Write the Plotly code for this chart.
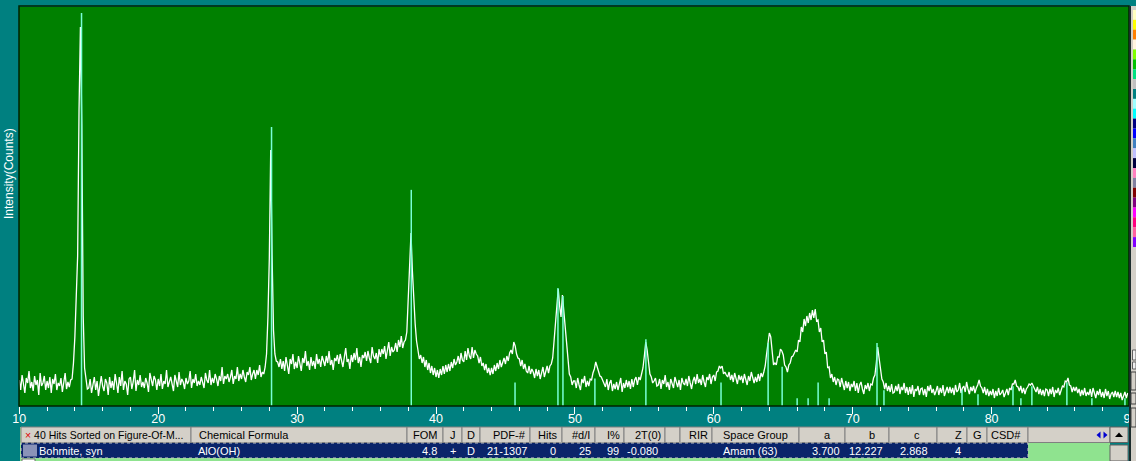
import plotly.graph_objects as go

# ---------------- data ----------------
# XRD scan: 2-theta from 10.0 deg in 0.1 deg steps, intensity in counts
start_2theta = 10.0
step_2theta = 0.1
counts = [
    260, 160, 310, 190, 130, 280, 230, 350, 180, 240,
    150, 300, 210, 260, 110, 330, 200, 230, 300, 160,
    250, 180, 290, 130, 270, 220, 320, 160, 230, 200,
    280, 140, 230, 330, 170, 240, 190, 260, 270, 430,
    690, 1100, 1500, 2960, 3790, 2800, 900, 380, 270, 170,
    180, 270, 130, 230, 290, 160, 250, 100, 220, 300,
    200, 150, 270, 230, 110, 290, 180, 250, 160, 320,
    230, 130, 290, 200, 350, 160, 250, 220, 110, 270,
    290, 170, 240, 360, 150, 260, 210, 310, 190, 240,
    180, 280, 230, 140, 330, 250, 200, 300, 260, 160,
    270, 200, 320, 170, 250, 220, 360, 190, 240, 290,
    220, 150, 310, 260, 190, 340, 210, 270, 240, 170,
    280, 220, 250, 350, 180, 270, 230, 320, 200, 250,
    210, 290, 240, 180, 330, 260, 230, 360, 210, 280,
    230, 320, 270, 200, 300, 250, 390, 220, 300, 270,
    320, 240, 290, 360, 220, 300, 270, 390, 250, 320,
    270, 360, 290, 240, 340, 310, 390, 260, 320, 360,
    270, 360, 310, 410, 290, 340, 320, 390, 520, 890,
    1480, 2560, 1500, 760, 520, 450, 440, 390, 470, 370,
    450, 350, 490, 400, 320, 470, 420, 520, 370, 440,
    380, 500, 410, 350, 480, 430, 550, 400, 450, 360,
    490, 400, 450, 370, 520, 420, 470, 390, 500, 440,
    400, 500, 430, 550, 410, 460, 360, 480, 450, 510,
    420, 520, 460, 390, 490, 580, 440, 470, 370, 510,
    440, 530, 460, 580, 430, 490, 390, 510, 480, 540,
    450, 550, 480, 430, 590, 500, 470, 530, 430, 570,
    490, 570, 520, 600, 470, 550, 640, 500, 590, 540,
    560, 630, 540, 660, 590, 700, 580, 640, 660, 740,
    1090, 1400, 1730, 1350, 1050, 820, 650, 530, 470, 510,
    430, 490, 390, 460, 360, 430, 330, 400, 310, 380,
    290, 360, 280, 370, 310, 400, 320, 410, 340, 420,
    350, 440, 380, 470, 410, 440, 500, 420, 530, 460,
    440, 550, 460, 580, 500, 470, 590, 480, 560, 520,
    500, 430, 490, 400, 430, 360, 420, 330, 380, 310,
    380, 320, 410, 350, 430, 370, 460, 390, 440, 480,
    420, 500, 450, 530, 560, 520, 640, 600, 520, 480,
    470, 400, 460, 370, 420, 350, 330, 400, 320, 370,
    340, 280, 370, 300, 360, 270, 330, 390, 290, 360,
    400, 330, 400, 420, 480, 650, 850, 1000, 1170, 1000,
    890, 1110, 960, 760, 620, 450, 320, 290, 210, 250,
    250, 180, 280, 210, 160, 270, 230, 300, 190, 250,
    200, 270, 260, 330, 370, 440, 390, 360, 300, 290,
    260, 220, 190, 270, 160, 230, 260, 150, 220, 170,
    240, 160, 210, 280, 140, 230, 180, 260, 190, 250,
    170, 270, 190, 260, 290, 210, 290, 260, 320, 380,
    500, 640, 560, 420, 320, 290, 230, 250, 280, 200,
    210, 270, 170, 260, 220, 310, 190, 240, 160, 270,
    230, 180, 290, 240, 190, 260, 160, 280, 230, 210,
    270, 200, 300, 230, 170, 250, 290, 220, 320, 230,
    270, 210, 310, 240, 190, 290, 260, 320, 220, 290,
    310, 250, 340, 350, 400, 380, 400, 320, 340, 310,
    290, 340, 260, 310, 240, 330, 270, 220, 310, 260,
    300, 230, 320, 270, 210, 300, 250, 340, 270, 230,
    290, 240, 320, 250, 330, 290, 340, 400, 520, 640,
    730, 690, 530, 410, 430, 410, 490, 490, 570, 550,
    510, 410, 390, 340, 410, 430, 490, 500, 530, 560,
    540, 660, 640, 790, 740, 870, 800, 900, 830, 930,
    860, 960, 880, 970, 850, 860, 740, 780, 640, 660,
    520, 540, 380, 390, 280, 320, 240, 290, 210, 270,
    260, 190, 280, 210, 160, 250, 180, 240, 150, 220,
    190, 250, 150, 230, 130, 210, 240, 170, 120, 210,
    170, 230, 150, 220, 210, 280, 310, 430, 590, 480,
    360, 270, 240, 170, 230, 150, 200, 140, 220, 130,
    140, 200, 150, 220, 120, 190, 160, 230, 130, 190,
    110, 190, 120, 210, 90, 170, 150, 200, 110, 170,
    180, 110, 170, 90, 200, 150, 210, 130, 170, 110,
    150, 200, 110, 180, 130, 210, 100, 160, 190, 130,
    190, 130, 180, 110, 210, 140, 160, 230, 130, 180,
    200, 140, 240, 170, 120, 190, 150, 200, 130, 180,
    210, 260, 200, 180, 130, 190, 110, 170, 100, 150,
    110, 170, 80, 150, 100, 180, 110, 130, 160, 90,
    140, 170, 110, 180, 160, 220, 220, 260, 200, 190,
    150, 200, 130, 180, 120, 170, 190, 220, 210, 230,
    200, 160, 140, 190, 120, 170, 110, 160, 100, 170,
    160, 100, 170, 120, 190, 90, 160, 130, 180, 110,
    160, 200, 190, 250, 240, 280, 210, 200, 140, 190,
    150, 190, 130, 170, 100, 160, 110, 180, 100, 140,
    110, 170, 90, 180, 130, 80, 150, 110, 170, 90,
    140, 80, 170, 100, 150, 70, 120, 140, 90, 150,
    90, 140, 80, 130, 60, 110, 140, 80, 130,
]
two_theta = [round(start_2theta + i * step_2theta, 1) for i in range(len(counts))]

# Reference pattern sticks (PDF 21-1307, Bohmite, syn): 2-theta and I%
stick_2theta = [14.48, 28.16, 38.22, 45.69, 48.78, 49.14, 51.44, 55.11, 60.52,
                63.91, 64.92, 66.00, 66.79, 67.51, 68.30, 71.75, 72.25, 77.87,
                79.02, 81.54, 82.11, 82.90, 85.42, 87.22, 89.60]
stick_rel_int = [100, 71, 55, 6, 30, 28, 7, 17, 6,
                 16, 10, 2, 2, 6, 2, 16, 4, 4,
                 3, 5, 2, 5, 6, 2, 2]
stick_full_scale = 3930  # counts at I% = 100

x_tick_values = [10, 20, 30, 40, 50, 60, 70, 80, 90]
y_title = "Intensity(Counts)"

# Hit list table (header + selected row)
table_header = ["40 Hits Sorted on Figure-Of-M...", "Chemical Formula", "FOM", "J", "D",
                "PDF-#", "Hits", "#d/I", "I%", "2T(0)", "", "RIR", "Space Group",
                "a", "b", "c", "Z", "G", "CSD#"]
table_row = ["Bohmite, syn", "AlO(OH)", "4.8", "+", "D", "21-1307", "0", "25", "99",
             "-0.080", "", "", "Amam (63)", "3.700", "12.227", "2.868", "4", "", ""]

# ---------------- page geometry / styles ----------------
W, H = 1136, 461
L, R, T, B = 19, 3, 7, 55
PW = W - L - R
PH = H - T - B
PLOT_BOTTOM = T + PH

TEAL = "#008080"
GREEN = "#008000"
STICK = "#78ffd6"
GRAY = "#d4d0c8"
NAVY = "#0a246a"
LIGHTGREEN = "#8fe38f"
FONT = "Liberation Sans"


def X(px):
    return (px - L) / PW


def Y(py):
    return (PLOT_BOTTOM - py) / PH


shapes = []
annotations = []


def rect(x0, y0, x1, y1, fill, line=None, lw=0, dash=None):
    d = dict(type="rect", xref="paper", yref="paper",
             x0=X(x0), x1=X(x1), y0=Y(y1), y1=Y(y0),
             fillcolor=fill, layer="above",
             line=dict(width=lw, color=line if line else fill))
    if dash:
        d["line"]["dash"] = dash
    shapes.append(d)


def path(points, fill):
    p = "M " + " L ".join(f"{X(a):.5f},{Y(b):.5f}" for a, b in points) + " Z"
    shapes.append(dict(type="path", xref="paper", yref="paper", path=p,
                       fillcolor=fill, line=dict(width=0), layer="above"))


def text(px, py, s, anchor="left", color="black", size=11, angle=0):
    annotations.append(dict(x=X(px), y=Y(py), xref="paper", yref="paper",
                            text=s, showarrow=False, xanchor=anchor, yanchor="middle",
                            textangle=angle, borderpad=0,
                            font=dict(family=FONT, size=size, color=color)))


# ---------------- traces ----------------
stick_x, stick_y = [], []
for t, r in zip(stick_2theta, stick_rel_int):
    stick_x += [t, t, None]
    stick_y += [0, r / 100 * stick_full_scale, None]

fig = go.Figure()
fig.add_trace(go.Scatter(x=two_theta, y=counts, mode="lines",
                         line=dict(color="white", width=1.3), hoverinfo="skip"))
fig.add_trace(go.Scatter(x=stick_x, y=stick_y, mode="lines",
                         line=dict(color=STICK, width=1.5), hoverinfo="skip"))

# plot border
shapes.append(dict(type="rect", xref="paper", yref="paper", x0=X(19), x1=X(1129),
                   y0=0, y1=Y(6), line=dict(color="#002200", width=1.5), layer="above"))

# right-hand tool panel with colour palette
rect(1129, 6, 1131, 461, "#1c2c2c")
rect(1131, 6, 1136, 461, GRAY)
palette = ["#ffffc0", "#ffff00", "#ff8000", "#fff4e0", "#80ff00", "#00c000", "#00e080",
           "#c0c0c0", "#008080", "#a0ffff", "#00ffff", "#000080", "#0000ff", "#4080c0",
           "#c0c0ff", "#000040", "#ff80c0", "#8080a0", "#800000", "#800080", "#ff00ff",
           "#ff0080", "#ff60a0", "#8000ff"]
ch = (247 - 10) / len(palette)
for i, c in enumerate(palette):
    rect(1133, 10 + i * ch, 1136, 10 + (i + 1) * ch, c)
rect(1132.5, 350, 1136, 360, "#f0f0f0", "#606060", 1)
rect(1132.5, 362, 1136, 369, "#f0f0f0", "#606060", 1)
rect(1131, 372, 1136, 390, GRAY, "#404040", 1)
rect(1131, 393, 1136, 404, GRAY, "#404040", 1)
rect(1131, 408, 1136, 427, GRAY, "#404040", 1)

# ---------------- hit list table ----------------
col_edges = [21, 191, 407, 443, 462, 480, 530, 562, 595, 624, 665, 680, 712, 799,
             845, 889, 937, 967, 987, 1028]
HY0, HY1 = 427, 442.5
RY0, RY1 = 443, 458
rect(20, HY0, 1110, 461, LIGHTGREEN)
for i in range(len(col_edges) - 1):
    rect(col_edges[i], HY0, col_edges[i + 1], HY1, GRAY, "#808080", 1)
rect(1028, HY0, 1110, HY1, GRAY, "#808080", 1)
rect(21, RY0, 1028, RY1, NAVY, "#c8c8c8", 1, dash="dot")
rect(23, RY0 + 1.5, 37, RY1 - 1.5, "#8a93b8")
rect(22, 459, 35, 462, "white", "#707070", 1)
# scroll bar
rect(1110, HY0, 1128, HY1, GRAY, "#606060", 1)
path([(1115, 437), (1123, 437), (1119, 432.5)], "black")
rect(1110, RY0 + 2, 1128, 461, GRAY, "#606060", 1)
# blue arrows icon
path([(1096.5, 435), (1100.5, 431.5), (1100.5, 438.5)], "#0000d0")
path([(1107.5, 435), (1103.5, 431.5), (1103.5, 438.5)], "#0000d0")

HYC = (HY0 + HY1) / 2 + 0.5
RYC = (RY0 + RY1) / 2 + 0.5
header_pos = [(24, "left"), (198, "left"), (438, "right"), (452.5, "center"),
              (471, "center"), (527, "right"), (558, "right"), (591, "right"),
              (621, "right"), (662, "right"), (672, "center"), (709, "right"),
              (722, "left"), (827, "center"), (872, "center"), (917, "center"),
              (963, "right"), (977, "center"), (990, "left")]
row_pos = [(38, "left"), (197, "left"), (438, "right"), (452.5, "center"),
           (471, "center"), (486, "left"), (553, "center"), (592, "right"),
           (620, "right"), (626, "left"), (672, "center"), (696, "center"),
           (722, "left"), (841, "right"), (884, "right"), (929, "right"),
           (962, "right"), (977, "center"), (1007, "center")]
for i, (s, (px, anc)) in enumerate(zip(table_header, header_pos)):
    if not s:
        continue
    label = s
    size = 11
    if i == 0:
        label = "<span style='color:#e00000'>×</span> " + s
        size = 10.5
    text(px, HYC, label, anc, "black", size)
for s, (px, anc) in zip(table_row, row_pos):
    if s:
        text(px, RYC, s, anc, "white", 11)

# y-axis title
text(9, 174, y_title, "center", "white", 12, angle=-90)

x_lo = 10 - (19.3 - L) / 13.89
x_hi = x_lo + PW / 13.89

fig.update_layout(
    width=W, height=H,
    margin=dict(l=L, r=R, t=T, b=B, pad=0),
    paper_bgcolor=TEAL, plot_bgcolor=GREEN,
    showlegend=False, hovermode=False,
    xaxis=dict(range=[x_lo, x_hi], showgrid=False, zeroline=False, showline=False,
               tickmode="array", tickvals=x_tick_values,
               ticktext=[str(v) for v in x_tick_values],
               ticks="outside", ticklen=7, tickwidth=1, tickcolor="white",
               ticklabelstandoff=-6, ticklabeloverflow="allow",
               tickfont=dict(family=FONT, size=12.5, color="white"),
               minor=dict(tickmode="linear", tick0=10, dtick=2, ticks="outside",
                          ticklen=4, tickwidth=1, tickcolor="white", showgrid=False),
               automargin=False, fixedrange=True),
    yaxis=dict(range=[0, PH * 10], showgrid=False, zeroline=False, showline=False,
               showticklabels=False, ticks="", automargin=False, fixedrange=True),
    shapes=shapes, annotations=annotations,
)

fig.write_html("out.html", config={"displayModeBar": False},
               post_script="document.body.style.margin='0';"
                           "document.body.style.padding='0';"
                           "document.body.style.background='#008080';")
